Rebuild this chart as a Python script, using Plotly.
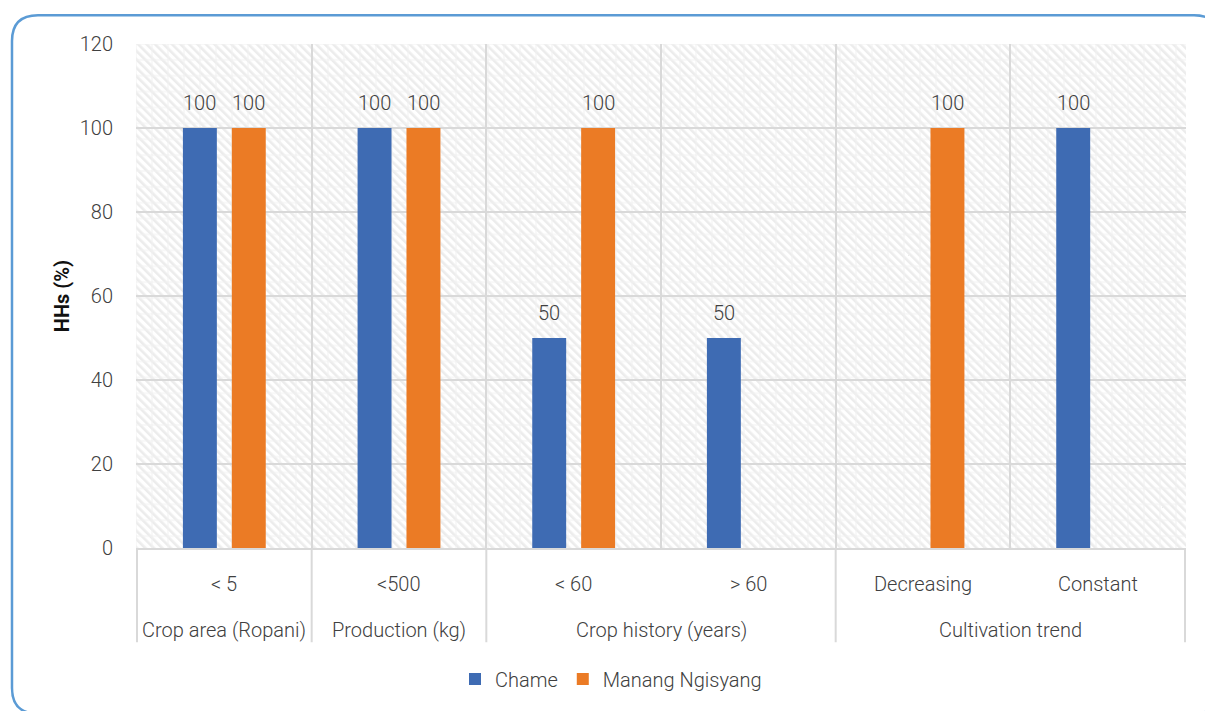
import base64
import plotly.graph_objects as go

# Survey categories (two-level x axis) and household shares per site
groups = ["Crop area (Ropani)", "Production (kg)", "Crop history (years)",
          "Crop history (years)", "Cultivation trend", "Cultivation trend"]
classes = ["< 5", "<500", "< 60", "> 60", "Decreasing", "Constant"]
chame = [100, 100, 50, 50, None, 100]
manang_ngisyang = [100, 100, 100, None, 100, None]
y_ticks = [0, 20, 40, 60, 80, 100, 120]

FONT = "Roboto, sans-serif"
TXT = "#404040"
BLUE = "#3E6BB3"
ORANGE = "#EB7B25"
GRID = "#D9D9D9"

W, H = 1205, 711
L, R, T, B = 136, 19, 44, 159
PW, PH = W - L - R, H - T - B


def px(x, y):
    """pixel position -> paper coordinates"""
    return (x - L) / PW, 1 - (y - T) / PH


def font(size=20, color=TXT, weight=300):
    return dict(family=FONT, size=size, color=color, weight=weight)


fig = go.Figure()
fig.add_trace(go.Bar(name="Chame", x=[groups, classes], y=chame,
                     marker_color=BLUE, marker_line_width=0))
fig.add_trace(go.Bar(name="Manang Ngisyang", x=[groups, classes], y=manang_ngisyang,
                     marker_color=ORANGE, marker_line_width=0))

annotations = []
shapes = []

# value labels above each bar
for series, shift in ((chame, -24.5), (manang_ngisyang, 24.5)):
    for i, v in enumerate(series):
        if v is None:
            continue
        annotations.append(dict(x=i, y=v, xref="x", yref="y", text=str(v),
                                showarrow=False, xshift=shift, yshift=25,
                                yanchor="middle", font=font()))

# two-level category labels and group dividers below the axis
inner_y = px(0, 588)[1]
outer_y = px(0, 635)[1]
divider_bottom = px(0, 647)[1]
for i, c in enumerate(classes):
    annotations.append(dict(x=i, y=inner_y, xref="x", yref="paper", text=c,
                            showarrow=False, yanchor="middle", font=font()))
spans = []
for i, g in enumerate(groups):
    if spans and spans[-1][0] == g:
        spans[-1][2] = i
    else:
        spans.append([g, i, i])
for g, a, b in spans:
    annotations.append(dict(x=(a + b) / 2, y=outer_y, xref="x", yref="paper", text=g,
                            showarrow=False, yanchor="middle", font=font()))
edges = [spans[0][1] - 0.5] + [b + 0.5 for _, _, b in spans]
for e in edges:
    shapes.append(dict(type="line", xref="x", yref="paper", x0=e, x1=e,
                       y0=0, y1=divider_bottom, line=dict(color=GRID, width=2),
                       layer="below"))

# hatched plot-area fill
svg = (
    f'<svg xmlns="http://www.w3.org/2000/svg" width="{PW}" height="{PH}">'
    '<defs>'
    '<pattern id="h" width="6" height="6" patternUnits="userSpaceOnUse" '
    'patternTransform="rotate(-45)">'
    '<rect width="6" height="6" fill="#ffffff"/>'
    '<rect width="2.6" height="6" fill="#ececec"/>'
    '</pattern>'
    '<pattern id="g" width="16" height="16" patternUnits="userSpaceOnUse">'
    '<rect width="16" height="16" fill="none" stroke="#f1f1f1" stroke-width="1"/>'
    '</pattern>'
    '</defs>'
    f'<rect width="{PW}" height="{PH}" fill="url(#h)"/>'
    f'<rect width="{PW}" height="{PH}" fill="url(#g)"/>'
    '</svg>'
)
src = "data:image/svg+xml;base64," + base64.b64encode(svg.encode()).decode()

# rounded chart frame
x0, y0, x1, y1, r = 12, 15, 1220, 719, 26
pts = [
    ("M", (x0 + r, y0)), ("L", (x1 - r, y0)), ("Q", (x1, y0), (x1, y0 + r)),
    ("L", (x1, y1 - r)), ("Q", (x1, y1), (x1 - r, y1)),
    ("L", (x0 + r, y1)), ("Q", (x0, y1), (x0, y1 - r)),
    ("L", (x0, y0 + r)), ("Q", (x0, y0), (x0 + r, y0)),
]
path = ""
for cmd, *coords in pts:
    path += cmd + " " + " ".join("{:.5f},{:.5f}".format(*px(*c)) for c in coords) + " "
path += "Z"
shapes.append(dict(type="path", path=path, xref="paper", yref="paper",
                   line=dict(color="#5B9BD5", width=2.5), layer="above"))

fig.update_layout(
    width=W, height=H,
    margin=dict(l=L, r=R, t=T, b=B),
    paper_bgcolor="white",
    plot_bgcolor="rgba(0,0,0,0)",
    barmode="group",
    bargap=0.44,
    bargroupgap=0.306,
    font=font(),
    showlegend=True,
    legend=dict(orientation="h", x=px(611, 0)[0], xanchor="center",
                y=px(0, 684)[1], yanchor="middle",
                font=font(), traceorder="normal"),
    annotations=annotations,
    images=[dict(source=src, xref="paper", yref="paper", x=0, y=1,
                 sizex=1, sizey=1, sizing="stretch", layer="below",
                 xanchor="left", yanchor="top")],
    shapes=shapes,
)

fig.update_xaxes(
    type="multicategory",
    tickson="boundaries",
    showgrid=True, gridcolor=GRID, gridwidth=2,
    showline=True, linecolor=GRID, linewidth=2,
    ticks="", showticklabels=False, showdividers=False,
)
fig.update_yaxes(
    range=[0, 120], tickvals=y_ticks,
    showgrid=True, gridcolor=GRID, gridwidth=2,
    zeroline=False, showline=False,
    ticks="", ticklabelstandoff=22,
    tickfont=font(),
    title=dict(text="<b>HHs (%)</b>", standoff=4,
               font=font(size=20, color="#111111", weight=700)),
)

fig.write_html("out.html")
